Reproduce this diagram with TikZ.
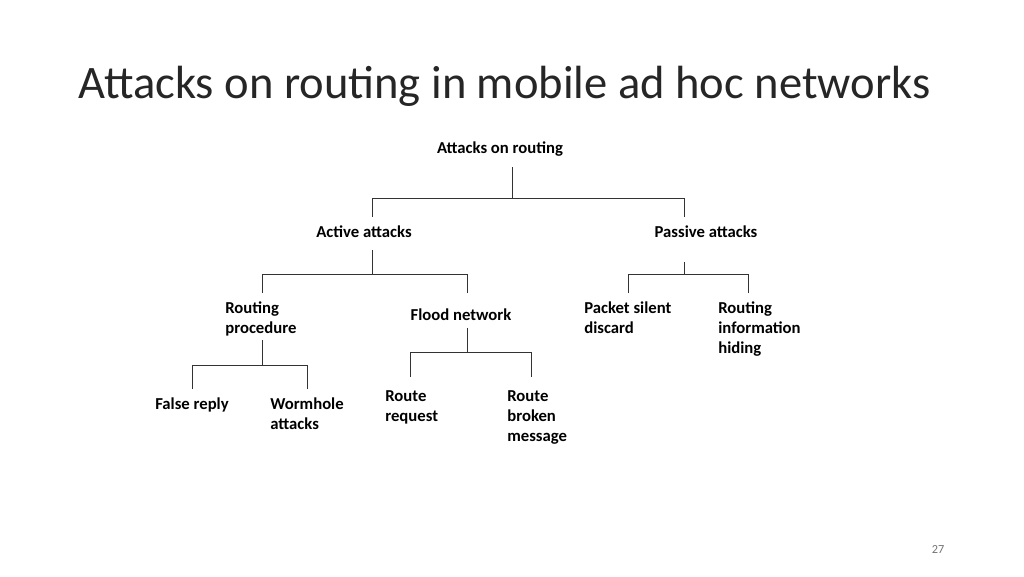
\documentclass[tikz,border=0pt]{standalone}
\usepackage{fontspec}
\setmainfont{Carlito}
\usetikzlibrary{positioning}
\tikzset{
  lbl/.style={font=\fontsize{9.5pt}{11.4pt}\selectfont\bfseries, inner sep=0pt},
  lft/.style={lbl, anchor=north west, align=left},
  link/.style={draw=black!80, line width=0.5pt}
}
\begin{document}
\begin{tikzpicture}[x=0.02cm,y=-0.02cm]
   \useasboundingbox (0,0) rectangle (1024,576);
   \node[anchor=west, inner sep=0pt, font=\fontsize{26.5pt}{30pt}\selectfont, text=black!85] (title) at (78,86) {Attacks on routing in mobile ad hoc networks};

   \node[lbl] (root) at (500,149) {Attacks on routing};
   \node[lbl] (act) at (364,232) {Active attacks};
   \node[lbl] (pas) at (706,232) {Passive attacks};
   \node[lft] (rp) at (225,301) {Routing\\procedure};
   \node[lbl] (fn) at (461,315) {Flood network};
   \node[lft] (psd) at (584,301) {Packet silent\\discard};
   \node[lft] (rih) at (718,301) {Routing\\information\\hiding};
   \node[lbl] (fr) at (192,405) {False reply};
   \node[lft] (wa) at (270,397) {Wormhole\\attacks};
   \node[lft] (rr) at (385,390) {Route\\request};
   \node[lft] (rbm) at (507,390) {Route\\broken\\message};

   \node[font=\fontsize{7pt}{8pt}\selectfont, text=black!55] (pg) at (938,549) {27};

   % tree lines
   \draw[link] (512,167) -- (512,198) (372,217) |- (684,198) -- (684,217);
   \draw[link] (372,250) -- (372,274) (262,293) |- (467,274) -- (467,293);
   \draw[link] (684,262) -- (684,274) (628,293) |- (748,274) -- (748,293);
   \draw[link] (262,340) -- (262,365) (192,389) |- (307,365) -- (307,389);
   \draw[link] (467,328) -- (467,352) (410,377) |- (531,352) -- (531,377);
\end{tikzpicture}
\end{document}
